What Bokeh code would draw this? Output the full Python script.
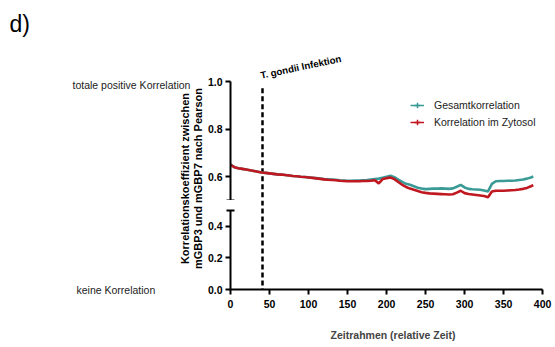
from bokeh.plotting import figure
from bokeh.layouts import column, row
from bokeh.models import Range1d, FixedTicker, Label, Legend, LegendItem, PrintfTickFormatter
from bokeh.embed import file_html
from bokeh.resources import INLINE
import math

# ---------------- data ----------------
frames = [0, 5, 10, 15, 20, 25, 30, 35, 40, 45, 50, 55, 60, 65, 70, 75, 80, 85, 90, 95,
          100, 105, 110, 115, 120, 125, 130, 135, 140, 145, 150, 155, 160, 165, 170, 175,
          180, 185, 190, 195, 200, 205, 210, 215, 220, 225, 230, 235, 240, 245, 250, 255,
          260, 265, 270, 275, 280, 285, 290, 295, 300, 305, 310, 315, 320, 325, 330, 335,
          340, 345, 350, 355, 360, 365, 370, 375, 380, 385, 388]
gesamt = [0.652, 0.640, 0.636, 0.633, 0.630, 0.627, 0.624, 0.621, 0.618, 0.616, 0.614, 0.612,
          0.610, 0.609, 0.607, 0.605, 0.603, 0.602, 0.600, 0.599, 0.598, 0.596, 0.594, 0.592,
          0.590, 0.589, 0.588, 0.587, 0.585, 0.584, 0.583, 0.583, 0.584, 0.584, 0.585, 0.586,
          0.588, 0.590, 0.592, 0.596, 0.600, 0.604, 0.598, 0.588, 0.578, 0.570, 0.566, 0.560,
          0.554, 0.550, 0.548, 0.549, 0.550, 0.550, 0.551, 0.550, 0.549, 0.551, 0.558, 0.566,
          0.555, 0.549, 0.547, 0.546, 0.545, 0.542, 0.538, 0.570, 0.581, 0.582, 0.582, 0.583,
          0.583, 0.584, 0.586, 0.588, 0.592, 0.597, 0.601]
zytosol = [0.650, 0.640, 0.636, 0.633, 0.630, 0.627, 0.624, 0.621, 0.618, 0.616, 0.614, 0.612,
           0.610, 0.609, 0.607, 0.605, 0.603, 0.602, 0.600, 0.599, 0.597, 0.595, 0.593, 0.591,
           0.589, 0.587, 0.586, 0.585, 0.583, 0.582, 0.581, 0.581, 0.581, 0.581, 0.582, 0.582,
           0.583, 0.585, 0.572, 0.590, 0.594, 0.597, 0.590, 0.578, 0.566, 0.557, 0.550, 0.545,
           0.540, 0.535, 0.532, 0.530, 0.529, 0.528, 0.527, 0.526, 0.525, 0.526, 0.533, 0.541,
           0.531, 0.527, 0.525, 0.523, 0.521, 0.519, 0.514, 0.538, 0.541, 0.541, 0.541, 0.542,
           0.543, 0.544, 0.546, 0.549, 0.553, 0.560, 0.565]
series_names = ["Gesamtkorrelation", "Korrelation im Zytosol"]
y_ticks_upper = [0.6, 0.8, 1.0]
y_ticks_lower = [0.0, 0.2, 0.4]
x_ticks = [0, 50, 100, 150, 200, 250, 300, 350, 400]
infection_frame = 41

TEAL = "#3a9a96"
RED = "#c01820"
FONT = "Liberation Sans"

x_range = Range1d(0, 416.5)


def style_axes(p):
    p.outline_line_color = None
    p.grid.visible = False
    p.background_fill_color = "white"
    p.border_fill_color = "white"
    for ax in p.axis:
        ax.axis_line_width = 2
        ax.axis_line_color = "black"
        ax.major_tick_line_width = 2
        ax.major_tick_line_color = "black"
        ax.major_tick_in = 0
        ax.major_tick_out = 5
        ax.minor_tick_line_width = 2
        ax.minor_tick_line_color = "black"
        ax.minor_tick_in = 4
        ax.minor_tick_out = 4
        ax.major_label_text_font = FONT
        ax.major_label_text_font_style = "bold"
        ax.major_label_text_font_size = "10.5px"
        ax.major_label_text_color = "black"


# ---------------- left text panel (pixel coordinates) ----------------
pl = figure(width=204, height=347, x_range=Range1d(0, 204), y_range=Range1d(347, 0),
            x_axis_location=None, y_axis_location=None, toolbar_location=None,
            output_backend="svg", min_border=0)
pl.outline_line_color = None
pl.grid.visible = False
pl.add_layout(Label(x=9, y=23, text="d)", text_font=FONT, text_font_size="23px",
                    text_align="left", text_baseline="middle", text_color="black"))
pl.add_layout(Label(x=72, y=84, text="totale positive Korrelation", text_font=FONT,
                    text_font_size="10.5px", text_align="left", text_baseline="middle",
                    text_color="#222222"))
pl.add_layout(Label(x=76, y=289, text="keine Korrelation", text_font=FONT,
                    text_font_size="10.5px", text_align="left", text_baseline="middle",
                    text_color="#222222"))
pl.add_layout(Label(x=191, y=178,
                    text="Korrelationskoeffizient zwischen\nmGBP3 und mGBP7 nach Pearson",
                    angle=math.pi / 2, text_font=FONT, text_font_style="bold",
                    text_font_size="11px", text_align="center", text_baseline="middle",
                    text_color="black", text_line_height=1.05))

# ---------------- upper segment (0.5 - 1.0) ----------------
p1 = figure(width=351, height=200, x_range=x_range, y_range=Range1d(0.5, 1.341),
            x_axis_location=None, toolbar_location=None, output_backend="svg",
            min_border_left=24, min_border_right=0, min_border_top=0, min_border_bottom=0)
p1.yaxis.ticker = FixedTicker(ticks=y_ticks_upper, minor_ticks=[0.5])
p1.yaxis.bounds = (0.5, 1.0)
p1.yaxis.formatter = PrintfTickFormatter(format="%.1f")
p1.yaxis.major_label_standoff = 3
style_axes(p1)

p1.segment(x0=[infection_frame], y0=[0.972], x1=[infection_frame], y1=[0.5],
           line_dash="5 3", line_width=2.5, line_color="black")
l1 = p1.line(frames, gesamt, line_color=TEAL, line_width=2.6)
l2 = p1.line(frames, zytosol, line_color=RED, line_width=2.6)

# legend key proxies, placed outside the visible x range (only the key is seen)
key_x = [-60, -50]
key_y = [0.6, 0.6]
k1 = p1.line(key_x, key_y, line_color=TEAL, line_width=1.5)
m1 = p1.scatter(key_x[:1], key_y[:1], marker="cross", size=5, line_width=1.5, line_color=TEAL)
k2 = p1.line(key_x, key_y, line_color=RED, line_width=1.5)
m2 = p1.scatter(key_x[:1], key_y[:1], marker="cross", size=5, line_width=1.5, line_color=RED)

legend = Legend(items=[LegendItem(label=series_names[0], renderers=[k1, m1]),
                       LegendItem(label=series_names[1], renderers=[k2, m2])],
                location=(180, 71), padding=0, margin=0, spacing=3,
                glyph_width=14, glyph_height=14, label_standoff=10,
                label_text_font=FONT, label_text_font_size="10.5px",
                label_text_color="#222222",
                border_line_alpha=0, background_fill_alpha=0)
p1.add_layout(legend)

p1.add_layout(Label(x=38.5, y=1.026, text="T. gondii Infektion", angle=math.radians(12),
                    text_font=FONT, text_font_style="bold", text_font_size="9.7px",
                    text_align="left", text_baseline="alphabetic", text_color="black"))

# ---------------- lower segment (0.0 - 0.5) ----------------
p2 = figure(width=351, height=147, x_range=x_range, y_range=Range1d(0.0, 0.5635),
            toolbar_location=None, output_backend="svg",
            min_border_left=24, min_border_right=0, min_border_top=0, min_border_bottom=58)
p2.yaxis.ticker = FixedTicker(ticks=y_ticks_lower, minor_ticks=[0.5])
p2.yaxis.bounds = (0.0, 0.5)
p2.yaxis.formatter = PrintfTickFormatter(format="%.1f")
p2.yaxis.major_label_standoff = 3
p2.xaxis.ticker = FixedTicker(ticks=x_ticks)
p2.xaxis.bounds = (0, 400)
p2.xaxis.axis_label = "Zeitrahmen (relative Zeit)"
p2.xaxis.axis_label_text_font = FONT
p2.xaxis.axis_label_text_font_style = "bold"
p2.xaxis.axis_label_text_font_size = "10.5px"
p2.xaxis.axis_label_standoff = 18
style_axes(p2)
p2.xaxis.minor_tick_in = 0
p2.xaxis.minor_tick_out = 0

p2.segment(x0=[infection_frame], y0=[0.5635], x1=[infection_frame], y1=[0.0],
           line_dash="5 3", line_width=2.5, line_color="black")

layout = row(pl, column(p1, p2, spacing=0), spacing=0)
open("out.html", "w").write(file_html(layout, INLINE))
